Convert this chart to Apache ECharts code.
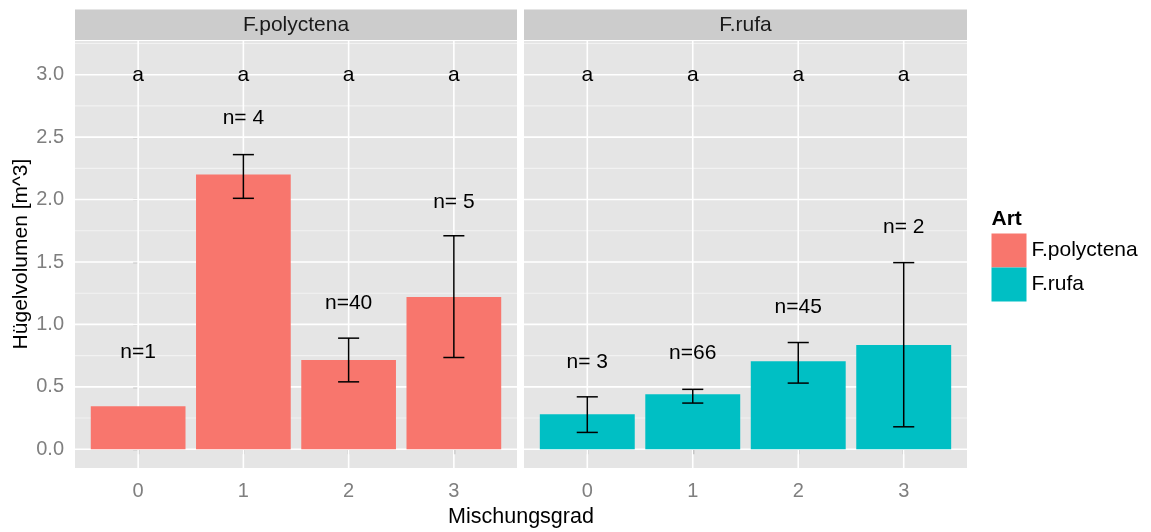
<!DOCTYPE html>
<html><head><meta charset="utf-8">
<script src="https://cdn.jsdelivr.net/npm/echarts@6/dist/echarts.min.js"></script>
<style>html,body{margin:0;padding:0;background:#fff}#c{width:1151px;height:532px}</style>
</head><body><div id="c"></div>
<script>
// ---- data ----
const categories = ['0', '1', '2', '3'];
const facets = ['F.polyctena', 'F.rufa'];
const polyMean = [0.345, 2.20, 0.715, 1.22];
const polyLow = [null, 2.01, 0.54, 0.735];
const polyHigh = [null, 2.36, 0.89, 1.71];
const rufaMean = [0.28, 0.44, 0.705, 0.835];
const rufaLow = [0.135, 0.37, 0.53, 0.18];
const rufaHigh = [0.42, 0.48, 0.855, 1.495];
const polyNLabels = ['n=1', 'n= 4', 'n=40', 'n= 5'];
const polyNY = [0.78, 2.65, 1.17, 1.98];
const rufaNLabels = ['n= 3', 'n=66', 'n=45', 'n= 2'];
const rufaNY = [0.70, 0.77, 1.14, 1.78];
const polyLetters = ['a', 'a', 'a', 'a'];
const rufaLetters = ['a', 'a', 'a', 'a'];
const letterY = [3.0, 3.0, 3.0, 3.0];
const yTicks = [0, 0.5, 1.0, 1.5, 2.0, 2.5, 3.0];
const yMinor = [0.25, 0.75, 1.25, 1.75, 2.25, 2.75, 3.25];
const xTicks = [0, 1, 2, 3];

// ---- layout / style ----
const FONT = "'Liberation Sans', Arial, sans-serif";
const COLORS = ['#F8766D', '#00BFC4'];
const grids = [
  { left: 75, top: 41, width: 442, height: 427 },
  { left: 524, top: 41, width: 443, height: 427 }
];
const Y_MIN = -0.15, Y_MAX = 3.27, X_MIN = -0.6, X_MAX = 3.6;

const chart = echarts.init(document.getElementById('c'), null, { renderer: 'canvas', width: 1151, height: 532 });

function gridSeries(gi) {
  return {
    type: 'custom', xAxisIndex: gi, yAxisIndex: gi, z: 1, silent: true,
    data: [[0, 0]],
    renderItem: function (params, api) {
      const cs = params.coordSys;
      const children = [];
      yMinor.forEach(v => {
        const p = api.coord([0, v]);
        children.push({ type: 'line', shape: { x1: cs.x, y1: p[1], x2: cs.x + cs.width, y2: p[1] }, style: { stroke: '#F2F2F2', lineWidth: 1.1 } });
      });
      yTicks.forEach(v => {
        const p = api.coord([0, v]);
        children.push({ type: 'line', shape: { x1: cs.x, y1: p[1], x2: cs.x + cs.width, y2: p[1] }, style: { stroke: '#FFFFFF', lineWidth: 1.6 } });
      });
      xTicks.forEach(v => {
        const p = api.coord([v, 0]);
        children.push({ type: 'line', shape: { x1: p[0], y1: cs.y, x2: p[0], y2: cs.y + cs.height }, style: { stroke: '#FFFFFF', lineWidth: 1.6 } });
      });
      return { type: 'group', children: children };
    }
  };
}

function barSeries(gi, name, means) {
  const bw = 0.9 * grids[gi].width / (X_MAX - X_MIN);
  return {
    type: 'bar', name: name, xAxisIndex: gi, yAxisIndex: gi, z: 2,
    barWidth: bw,
    itemStyle: { color: COLORS[gi] },
    data: means.map((m, i) => [xTicks[i], m]),
    emphasis: { disabled: true }
  };
}

function errSeries(gi, low, high) {
  const data = [];
  low.forEach((l, i) => { if (l != null) data.push([xTicks[i], l, high[i]]); });
  return {
    type: 'custom', xAxisIndex: gi, yAxisIndex: gi, z: 3, silent: true,
    data: data,
    encode: { x: 0, y: [1, 2] },
    renderItem: function (params, api) {
      const x = api.value(0);
      const lo = api.coord([x, api.value(1)]);
      const hi = api.coord([x, api.value(2)]);
      const l = api.coord([x - 0.1, 0])[0];
      const r = api.coord([x + 0.1, 0])[0];
      const st = { stroke: '#000', lineWidth: 1.5 };
      return {
        type: 'group', children: [
          { type: 'line', shape: { x1: lo[0], y1: lo[1], x2: hi[0], y2: hi[1] }, style: st },
          { type: 'line', shape: { x1: l, y1: lo[1], x2: r, y2: lo[1] }, style: st },
          { type: 'line', shape: { x1: l, y1: hi[1], x2: r, y2: hi[1] }, style: st }
        ]
      };
    }
  };
}

function textSeries(gi, labels, ys) {
  return {
    type: 'custom', xAxisIndex: gi, yAxisIndex: gi, z: 4, silent: true,
    data: labels.map((t, i) => [xTicks[i], ys[i]]),
    renderItem: function (params, api) {
      const p = api.coord([api.value(0), api.value(1)]);
      return {
        type: 'text', x: p[0], y: p[1],
        style: { text: labels[params.dataIndex], fill: '#000', font: '21px ' + FONT, align: 'center', verticalAlign: 'middle' }
      };
    }
  };
}

const xAxes = grids.map((g, gi) => ({
  type: 'value', gridIndex: gi, min: X_MIN, max: X_MAX,
  axisLine: { show: false },
  axisTick: { show: true, customValues: xTicks, length: 5, lineStyle: { color: '#7F7F7F', width: 1.3 } },
  axisLabel: { customValues: xTicks, formatter: v => categories[Math.round(v)], color: '#7F7F7F', fontSize: 20, fontFamily: FONT, margin: 13 },
  splitLine: { show: false }
}));
const yAxes = grids.map((g, gi) => ({
  type: 'value', gridIndex: gi, min: Y_MIN, max: Y_MAX,
  axisLine: { show: false },
  axisTick: { show: gi === 0, customValues: yTicks, length: 5, lineStyle: { color: '#7F7F7F', width: 1.3 } },
  axisLabel: { show: gi === 0, customValues: yTicks, formatter: v => v.toFixed(1), color: '#7F7F7F', fontSize: 20, fontFamily: FONT, margin: 11 },
  splitLine: { show: false }
}));

const graphics = [];
grids.forEach((g, gi) => {
  graphics.push({ type: 'rect', shape: { x: g.left, y: 9.5, width: g.width, height: 30.5 }, style: { fill: '#CCCCCC' }, silent: true });
  graphics.push({ type: 'text', x: g.left + g.width / 2, y: 25, style: { text: facets[gi], fill: '#1A1A1A', font: '21px ' + FONT, align: 'center', verticalAlign: 'middle' }, silent: true });
});
graphics.push({ type: 'text', x: 521, y: 517, style: { text: 'Mischungsgrad', fill: '#000', font: '21.5px ' + FONT, align: 'center', verticalAlign: 'middle' } });
graphics.push({ type: 'text', x: 21, y: 254, rotation: Math.PI / 2, style: { text: 'Hügelvolumen [m^3]', fill: '#000', font: '21px ' + FONT, align: 'center', verticalAlign: 'middle' } });
graphics.push({ type: 'text', x: 991.5, y: 219.5, style: { text: 'Art', fill: '#000', font: 'bold 21px ' + FONT, align: 'left', verticalAlign: 'middle' } });

const option = {
  backgroundColor: '#FFFFFF',
  animation: false,
  grid: grids.map(g => Object.assign({ show: true, backgroundColor: '#E5E5E5', borderWidth: 0 }, g)),
  xAxis: xAxes,
  yAxis: yAxes,
  legend: {
    orient: 'vertical', left: 991.5, top: 233.5, padding: 0,
    itemWidth: 35, itemHeight: 34, itemGap: 0,
    icon: 'rect',
    textStyle: { fontSize: 21, fontFamily: FONT, color: '#000', padding: [0, 0, 0, 0] },
    data: facets,
    selectedMode: false
  },
  graphic: graphics,
  series: [
    gridSeries(0), gridSeries(1),
    barSeries(0, facets[0], polyMean), barSeries(1, facets[1], rufaMean),
    errSeries(0, polyLow, polyHigh), errSeries(1, rufaLow, rufaHigh),
    textSeries(0, polyLetters, letterY), textSeries(1, rufaLetters, letterY),
    textSeries(0, polyNLabels, polyNY), textSeries(1, rufaNLabels, rufaNY)
  ]
};
chart.setOption(option);
</script>
</body></html>
